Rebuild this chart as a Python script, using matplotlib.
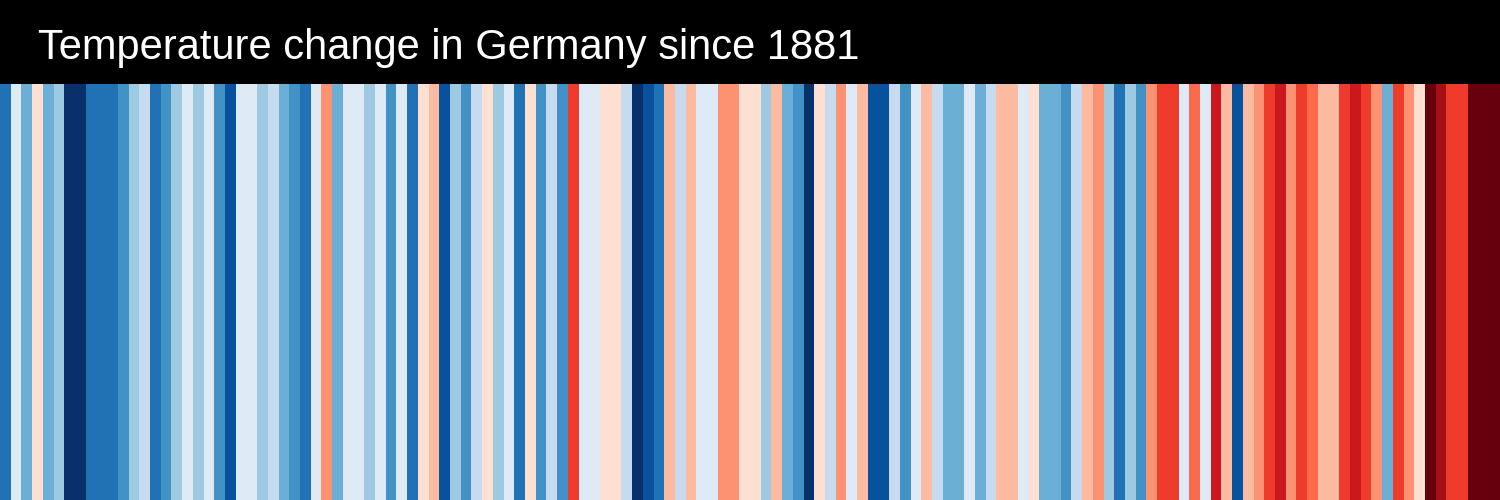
import matplotlib
matplotlib.use("Agg")
import matplotlib.pyplot as plt
from matplotlib.colors import ListedColormap, BoundaryNorm
import numpy as np

# --- data -------------------------------------------------------------
start_year = 1881
title = "Temperature change in Germany since 1881"

# Estimated annual temperature anomalies (°C), 1881-2020
anomalies = [
    -1.4, -0.1, -0.9, 0.1, -0.9, -0.6, -1.9, -1.9, -1.4, -1.4, -1.4, -1.1,
    -0.6, -0.4, -1.4, -1.1, -0.6, -0.1, -0.6, -0.1, -1.1, -1.6, -0.1,
    -0.1, -0.6, -0.4, -0.9, -1.1, -1.4, -0.1, 0.6, -0.9, -0.1, -0.1, -0.6,
    -0.1, -1.1, -0.1, -1.4, 0.1, 0.4, -1.6, -0.6, -1.1, -0.4, 0.1, -0.6,
    -0.1, -1.4, 0.1, -1.1, -0.4, -1.1, 1.1, -0.1, -0.1, 0.1, 0.1, -0.4,
    -1.9, -1.6, -1.4, 0.4, -0.4, 0.4, -0.1, -0.1, 0.6, 0.6, 0.1,
    0.1, -0.6, 0.4, -0.9, -1.1, -1.9, 0.1, -0.4, 0.6, -0.1, 0.4, -1.6,
    -1.6, -0.4, -1.1, -0.1, 0.4, -0.4, -0.9, -0.9, -0.1, -0.9, -0.4, 0.4,
    0.4, -0.1, 0.1, -0.9, -0.9, -1.1, -0.4, 0.4, 0.6, -0.6, -1.4,
    -0.6, -1.1, 0.6, 1.1, 1.1, -0.1, 0.9, -0.1, 1.4, 0.4, -1.6, 0.4,
    0.6, 1.1, 1.4, 0.6, 1.1, 0.9, 0.4, 0.4, 1.1, 1.4, 1.1, 0.6,
    -0.9, 1.1, 0.6, 0.1, 1.9, 1.6, 1.1, 1.1, 1.9, 1.9, 1.9,
]
years = np.arange(start_year, start_year + len(anomalies))

# ColorBrewer 8-class Blues (dark->light) + Reds (light->dark)
stripe_colors = [
    "#08306b", "#08519c", "#2171b5", "#4292c6", "#6baed6", "#9ecae1", "#c6dbef", "#deebf7",
    "#fee0d2", "#fcbba1", "#fc9272", "#fb6a4a", "#ef3b2c", "#cb181d", "#a50f15", "#67000d",
]
bounds = np.linspace(-2.0, 2.0, 17)

# --- figure -----------------------------------------------------------
W, H, DPI = 1500, 500, 100
fig = plt.figure(figsize=(W / DPI, H / DPI), dpi=DPI)
fig.patch.set_facecolor("white")

header_h = 84 / H
ax_head = fig.add_axes([0, 1 - header_h, 1, header_h])
ax_head.set_facecolor("black")
ax_head.set_xticks([]); ax_head.set_yticks([])
for s in ax_head.spines.values():
    s.set_visible(False)
ax_head.text(38 / W, 0.43, title, transform=ax_head.transAxes,
             color="white", fontsize=30, va="center", ha="left",
             family=["Liberation Sans", "DejaVu Sans"])

ax = fig.add_axes([0, 0, 1, 1 - header_h])
cmap = ListedColormap(stripe_colors)
norm = BoundaryNorm(bounds, cmap.N)
ax.bar(years, 1.0, width=1.0, bottom=0, color=cmap(norm(np.array(anomalies))),
       linewidth=0, align="center")
ax.set_xlim(years[0] - 0.5, years[-1] + 0.5)
ax.set_ylim(0, 1)
ax.set_axis_off()

fig.savefig("out.png", dpi=DPI)
